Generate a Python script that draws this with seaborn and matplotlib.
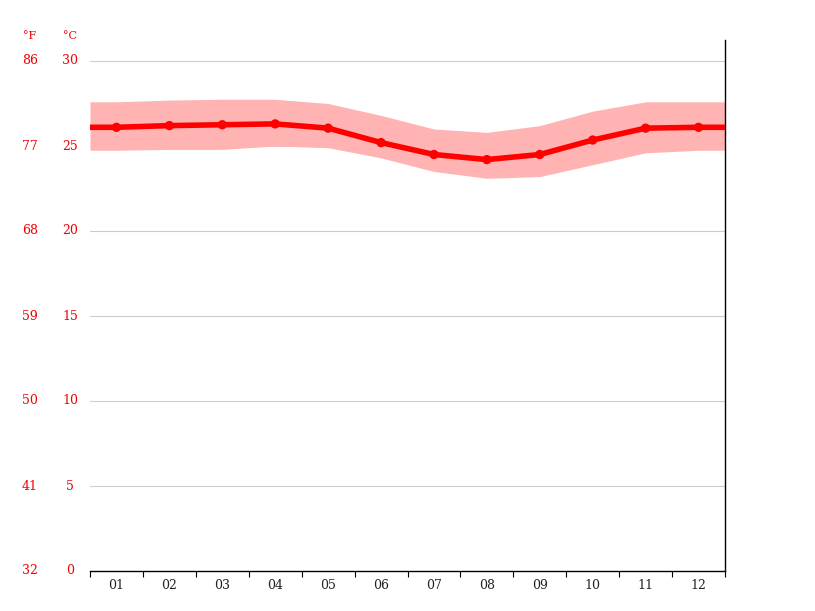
import matplotlib
matplotlib.use("Agg")
import matplotlib.pyplot as plt
import seaborn as sns
import numpy as np
import pandas as pd

months = ["01","02","03","04","05","06","07","08","09","10","11","12"]
mean_c = [26.1, 26.2, 26.25, 26.3, 26.05, 25.2, 24.5, 24.2, 24.5, 25.35, 26.05, 26.1]
max_c = [27.6, 27.7, 27.75, 27.75, 27.5, 26.8, 26.0, 25.8, 26.2, 27.05, 27.6, 27.6]
min_c = [24.75, 24.8, 24.8, 25.0, 24.9, 24.3, 23.5, 23.1, 23.2, 23.9, 24.6, 24.75]
c_ticks = [0, 5, 10, 15, 20, 25, 30]
f_labels = ["32", "41", "50", "59", "68", "77", "86"]

sns.set_style("white")
fig = plt.figure(figsize=(8.15, 6.11), dpi=100)
ax = fig.add_axes([90/815, 1-571/611, (725-90)/815, (571-40)/611])

x = np.arange(1, 13)
xe = np.concatenate([[0.5], x, [12.5]])
def ext(a):
    return np.concatenate([[a[0]], a, [a[-1]]])

ax.fill_between(xe, ext(min_c), ext(max_c), color="#ffb3b3", lw=0, zorder=2)
ax.plot(xe, ext(mean_c), color="#ff0000", lw=4, zorder=3, solid_capstyle="butt")
df = pd.DataFrame({"m": x, "t": mean_c})
sns.scatterplot(data=df, x="m", y="t", color="#ff0000", s=45, edgecolor="none", zorder=4, ax=ax)

ax.set_xlim(0.5, 12.5)
ax.set_ylim(0, (571-40)/17)
for t in c_ticks[1:]:
    ax.axhline(t, color="#cccccc", lw=0.8, zorder=1)

ax.set_xticks(x)
ax.set_xticklabels(months, fontsize=9, color="#222222", family="DejaVu Serif")
ax.set_xticks(np.arange(0.5, 13, 1), minor=True)
ax.tick_params(axis="x", which="major", bottom=True, length=0, pad=6)
ax.tick_params(axis="x", which="minor", bottom=True, length=4, color="black", width=0.8)
ax.set_yticks([])
ax.set_xlabel("")
ax.set_ylabel("")
for s in ["left", "top"]:
    ax.spines[s].set_visible(False)
ax.spines["right"].set_color("black")
ax.spines["bottom"].set_color("black")
ax.spines["right"].set_linewidth(1)
ax.spines["bottom"].set_linewidth(1)

for t, f in zip(c_ticks, f_labels):
    yy = 1 - (571 - 17 * t) / 611
    fig.text(70/815, yy, str(t), color="#ee0000", fontsize=9, ha="center", va="center",
             family="DejaVu Serif")
    fig.text(30/815, yy, f, color="#ee0000", fontsize=9, ha="center", va="center",
             family="DejaVu Serif")
fig.text(30/815, 1-36/611, "°F", color="#ee0000", fontsize=8, ha="center", va="center", family="DejaVu Serif")
fig.text(70/815, 1-36/611, "°C", color="#ee0000", fontsize=8, ha="center", va="center", family="DejaVu Serif")

fig.savefig("out.png", dpi=100)
